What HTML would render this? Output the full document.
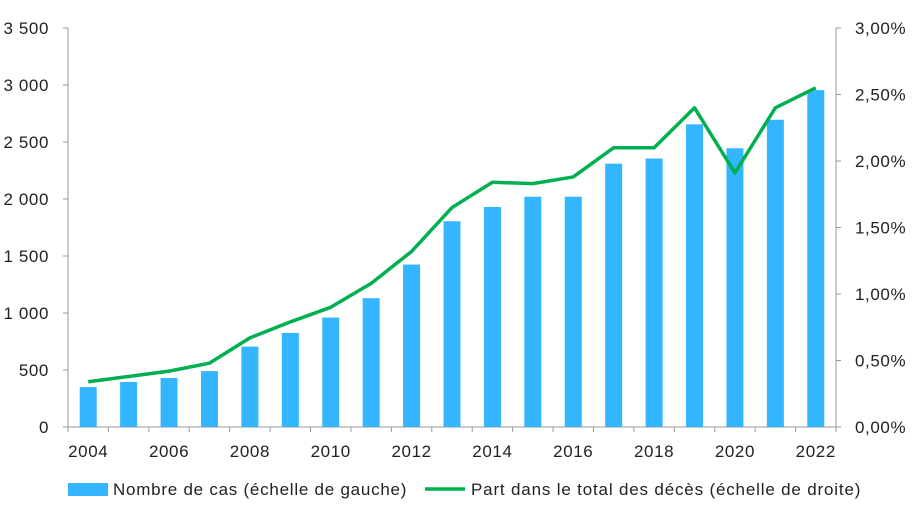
<!DOCTYPE html>
<html><head><meta charset="utf-8"><style>
body{margin:0;background:#fff;}
svg text{font-family:"Liberation Sans",sans-serif;font-size:17px;letter-spacing:0.6px;fill:#222;}
</style></head><body>
<svg id="c" width="920" height="506"></svg>
<script>
const years=["2004","2005","2006","2007","2008","2009","2010","2011","2012","2013","2014","2015","2016","2017","2018","2019","2020","2021","2022"];
const cases=[350,395,430,490,705,825,960,1130,1425,1805,1930,2020,2020,2310,2355,2655,2445,2695,2955];
const share=[0.34,0.38,0.42,0.48,0.67,0.79,0.90,1.08,1.32,1.65,1.84,1.83,1.88,2.10,2.10,2.40,1.91,2.40,2.55];
const leftTicks=[0,500,1000,1500,2000,2500,3000,3500];
const leftLabels=["0","500","1 000","1 500","2 000","2 500","3 000","3 500"];
const rightTicks=[0,0.5,1,1.5,2,2.5,3];
const rightLabels=["0,00%","0,50%","1,00%","1,50%","2,00%","2,50%","3,00%"];
const NS="http://www.w3.org/2000/svg",svg=document.getElementById('c');
const L=68,R=836,T=28,B=427;
const slot=(R-L)/years.length;
const xc=i=>L+slot*(i+0.5);
const yl=v=>B-(B-T)*v/3500;
const yr=v=>B-(B-T)*v/3;
function mk(t,a,p){const e=document.createElementNS(NS,t);for(const k in a)e.setAttribute(k,a[k]);(p||svg).appendChild(e);return e;}
const ax=mk('g',{});


mk('line',{x1:L,y1:T,x2:L,y2:B,stroke:'#999'},ax);
mk('line',{x1:R,y1:T,x2:R,y2:B,stroke:'#999'},ax);
mk('line',{x1:L,y1:B,x2:R,y2:B,stroke:'#999'},ax);
leftTicks.forEach((v,i)=>{mk('line',{x1:L-5,y1:yl(v),x2:L,y2:yl(v),stroke:'#999'},ax);
const t=mk('text',{x:L-19,y:yl(v)+6,'text-anchor':'end'},ax);t.textContent=leftLabels[i];

});
rightTicks.forEach((v,i)=>{mk('line',{x1:R,y1:yr(v),x2:R+5,y2:yr(v),stroke:'#999'},ax);
const t=mk('text',{x:R+19,y:yr(v)+6},ax);t.textContent=rightLabels[i];

});
for(let i=0;i<=years.length;i++)mk('line',{x1:L+slot*i,y1:B,x2:L+slot*i,y2:B+5,stroke:'#999'},ax);
years.forEach((y,i)=>{if(i%2)return;const t=mk('text',{x:xc(i),y:B+30,'text-anchor':'middle'},ax);t.textContent=y;

});
const bw=17;
cases.forEach((v,i)=>{const r=mk('rect',{x:xc(i)-bw/2,y:yl(v),width:bw,height:B-yl(v),fill:'#33b5ff'});

});
const pl=mk('polyline',{points:share.map((v,i)=>xc(i)+','+yr(v)).join(' '),fill:'none',stroke:'#00b050','stroke-width':3.5,'stroke-linejoin':'round'});


const lg=mk('g',{});


mk('rect',{x:68,y:483,width:40,height:13,fill:'#33b5ff'},lg);
mk('text',{x:113,y:495,textLength:294,lengthAdjust:'spacing'},lg).textContent='Nombre de cas (échelle de gauche)';
mk('line',{x1:425,y1:489,x2:465,y2:489,stroke:'#00b050','stroke-width':3.5},lg);
mk('text',{x:471,y:495,textLength:390,lengthAdjust:'spacing'},lg).textContent='Part dans le total des décès (échelle de droite)';
</script>
</body></html>
